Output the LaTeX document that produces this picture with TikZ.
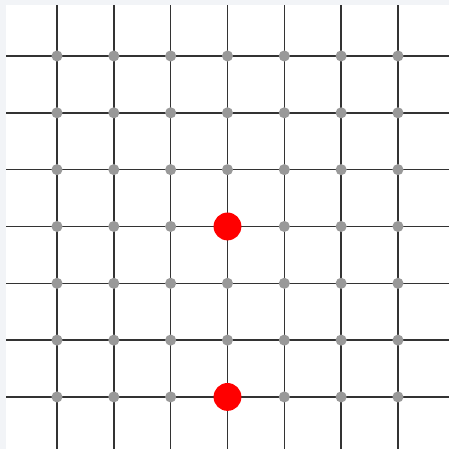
\documentclass[tikz,border=0pt]{standalone}
\usepackage{tikz}
\definecolor{bggray}{HTML}{F2F4F7}
\definecolor{dotgray}{HTML}{999999}
\tikzset{
  gridline/.style={line width=0.75pt, black!80},
  gdot/.style={circle, fill=dotgray, inner sep=0pt, minimum size=0.195cm},
  rdot/.style={circle, fill=red, inner sep=0pt, minimum size=0.49cm}
}
\begin{document}
\begin{tikzpicture}
    \fill[bggray] (-1.003,0.985) rectangle (6.898,-6.915);
    \useasboundingbox (-1.003,0.985) rectangle (6.898,-6.915);
    \fill[white] (-0.897,0.897) rectangle (6.898,-6.915);
    \foreach \i in {0,...,6} {
        \coordinate (l\i) at (-0.897,-\i);
        \coordinate (r\i) at (6.898,-\i);
        \coordinate (t\i) at (\i,0.897);
        \coordinate (b\i) at (\i,-6.915);
        \draw[gridline] (l\i) -- (r\i);
        \draw[gridline] (t\i) -- (b\i);
    }
    \foreach \i in {0,...,6}
        \foreach \j in {0,...,6}
            \node[gdot] (d\i\j) at (\i,-\j) {};
    \node[rdot] (red1) at (3,-3) {};
    \node[rdot] (red2) at (3,-6) {};
\end{tikzpicture}
\end{document}
